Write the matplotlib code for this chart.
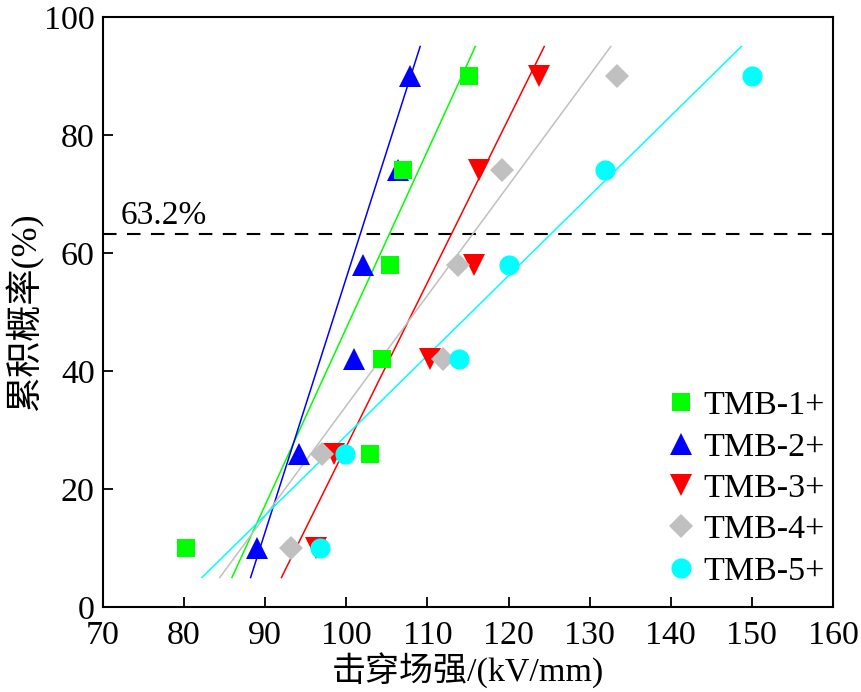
import matplotlib
matplotlib.use("Agg")
import matplotlib.pyplot as plt

plt.rcParams['font.family'] = ['Liberation Serif', 'Noto Sans CJK SC']
plt.rcParams['mathtext.fontset'] = 'stix'

# cumulative probability levels (%)
prob = [10, 26, 42, 58, 74, 90]

series_names = ["TMB-1+", "TMB-2+", "TMB-3+", "TMB-4+", "TMB-5+"]
tmb1 = [80.2, 102.9, 104.4, 105.4, 107.0, 115.1]
tmb2 = [89.0, 94.2, 100.9, 102.0, 106.4, 107.8]
tmb3 = [96.3, 98.5, 110.3, 115.7, 116.4, 123.8]
tmb4 = [93.2, 97.0, 111.9, 113.8, 119.2, 133.4]
tmb5 = [96.7, 99.8, 113.9, 120.0, 131.9, 150.0]

# fitted lines: field strength at the low / high ends of the fit range
fit_prob = [5, 95]
fit1 = [85.9, 115.9]
fit2 = [88.2, 109.1]
fit3 = [92.0, 124.4]
fit4 = [84.4, 132.6]
fit5 = [82.2, 148.7]

ref_level = 63.2
ref_label = "63.2%"

x_ticks = [70, 80, 90, 100, 110, 120, 130, 140, 150, 160]
y_ticks = [0, 20, 40, 60, 80, 100]

colors = ["#00FF00", "#0000FF", "#FF0000", "#C0C0C0", "#00FFFF"]
markers = ["s", "^", "v", "D", "o"]
msizes = [13.5, 15.5, 15.5, 12.5, 14.5]
zorders = [3.5, 3.0, 3.1, 3.2, 3.3]

data = [tmb1, tmb2, tmb3, tmb4, tmb5]
fits = [fit1, fit2, fit3, fit4, fit5]

fig = plt.figure(figsize=(8.61, 6.92), dpi=100)
ax = fig.add_axes([103 / 861, 1 - 607 / 692, (833 - 103) / 861, (607 - 17) / 692])

for name, xs, fx, c, m, ms, z in zip(series_names, data, fits, colors, markers, msizes, zorders):
    ax.plot(fx, fit_prob, color=c, lw=1.1, zorder=2)
    ax.plot(xs, prob, linestyle="none", marker=m, markersize=ms, color=c,
            markeredgewidth=0, label=name, zorder=z)

ax.axhline(ref_level, color="black", lw=1.5, dashes=(6.5, 5), zorder=1)
ax.text(72.2, 64.9, ref_label, fontsize=24, va="baseline", ha="left")

ax.set_xlim(70, 160)
ax.set_ylim(0, 100)
ax.set_xticks(x_ticks)
ax.set_yticks(y_ticks)
ax.tick_params(direction="in", length=7, width=1.3, labelsize=24.5, pad=6)
ax.tick_params(axis="x", pad=10)
for s in ax.spines.values():
    s.set_linewidth(1.5)

ax.set_xlabel("击穿场强/(kV/mm)", fontsize=24.5, labelpad=1)
ax.set_ylabel("累积概率(%)", fontsize=26, labelpad=0)

ax.legend(loc="lower right", bbox_to_anchor=(1.0, 0.02), frameon=False, fontsize=24.5,
          handletextpad=0.05, labelspacing=0.31, handlelength=1.2,
          borderpad=0.2, borderaxespad=0.05)

fig.savefig("out.png", dpi=100)
